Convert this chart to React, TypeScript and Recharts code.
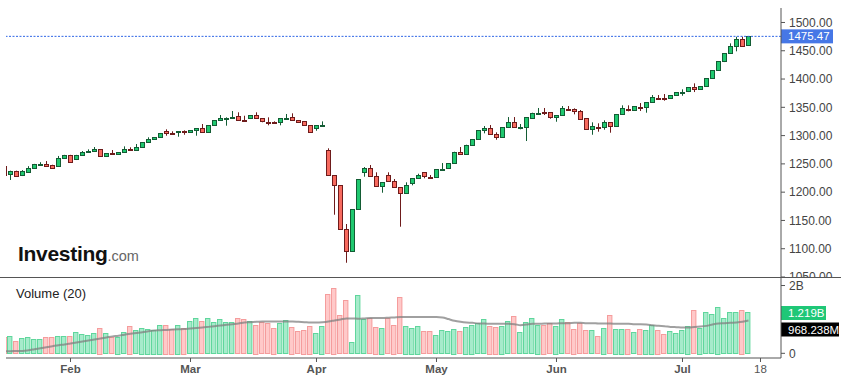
import { ComposedChart, Bar, Line, XAxis, YAxis, ReferenceLine } from "recharts";

// daily OHLC
const opens = [
  1246, 1231, 1237, 1230, 1236, 1242, 1249.5, 1250, 1247.5, 1245,
  1260, 1265, 1257.5, 1265, 1271, 1272.2, 1275.7, 1263.4, 1268.7, 1266.9,
  1270.4, 1275.7, 1274, 1279.3, 1288.1, 1293.4, 1297, 1307.6, 1305, 1307,
  1307.3, 1305.8, 1309.3, 1312.9, 1305.8, 1318.2, 1327, 1331.3, 1333, 1334.1,
  1327.3, 1329.8, 1335.9, 1330.6, 1324.9, 1323.2, 1322.8, 1331.3, 1332.3, 1327,
  1325.2, 1318.2, 1312.2, 1318.4, 1274, 1229.8, 1212.1, 1134.3, 1095.4, 1169.7,
  1235.1, 1242.2, 1228, 1210.3, 1229.8, 1219.2, 1208.6, 1198, 1215.6, 1224.5,
  1235.1, 1227.6, 1226.2, 1240.6, 1241.4, 1251, 1271, 1266.9, 1282.1, 1293.4,
  1308.6, 1312.9, 1302.3, 1297, 1314.6, 1324, 1315.4, 1314.6, 1331.6, 1339.6,
  1341.5, 1341.2, 1332.3, 1335.9, 1347.8, 1346.5, 1343.5, 1330.6, 1310.4, 1316,
  1313.9, 1323.5, 1316.4, 1337.6, 1347.8, 1345.2, 1351.4, 1349.3, 1358.8, 1367.3,
  1366.2, 1365.2, 1371.2, 1377.3, 1377.6, 1385.4, 1381.1, 1387.1, 1401.3, 1415.4,
  1430.6, 1445.5, 1457.8, 1470.8, 1458.9,
];
const highs = [
  1247, 1238, 1238, 1239, 1246, 1250, 1253, 1255, 1248.5, 1264,
  1266, 1266, 1266, 1272.7, 1275.7, 1279.8, 1276.3, 1269.2, 1274.5, 1271,
  1281, 1279.3, 1285.1, 1288.6, 1297, 1297.5, 1304.6, 1311.1, 1307.6, 1308.1,
  1309.3, 1309.9, 1313.4, 1320.5, 1318.7, 1327.5, 1336.4, 1332.3, 1343.5, 1341.2,
  1335.1, 1336.4, 1341.2, 1331.1, 1332.3, 1325.2, 1331.1, 1338.2, 1339.4, 1327.5,
  1325.8, 1318.7, 1318.7, 1325.2, 1277.5, 1230.3, 1212.6, 1143.7, 1170.2, 1223.2,
  1244.4, 1248, 1235.1, 1217.9, 1235.1, 1223.2, 1209.1, 1217.4, 1225, 1232.6,
  1235.6, 1230.3, 1240.9, 1251.5, 1251.5, 1271.5, 1279.8, 1283.9, 1294, 1309.9,
  1316.9, 1318.7, 1305.8, 1315.1, 1332.8, 1332.8, 1320.5, 1332.8, 1340.5, 1348.8,
  1348.8, 1341.7, 1336.4, 1352.3, 1352.3, 1348.2, 1345.2, 1331.1, 1323.5, 1321.7,
  1327, 1324, 1338.2, 1353.5, 1353.5, 1352.3, 1357.6, 1359.3, 1371.7, 1371.7,
  1373.5, 1371.7, 1377, 1381.8, 1385.9, 1392.4, 1387.6, 1401.8, 1415.9, 1431.8,
  1446, 1463.1, 1474.8, 1474.8, 1476,
];
const lows = [
  1229, 1221.5, 1228.5, 1228.5, 1235.5, 1241.5, 1248.5, 1244.5, 1242.5, 1244.5,
  1259, 1252, 1256.8, 1264.5, 1269.7, 1271.5, 1262.7, 1262.7, 1266.2, 1266.2,
  1269.7, 1273.3, 1273.3, 1278.6, 1287.4, 1292.7, 1296.2, 1299.8, 1303.3, 1298,
  1301.5, 1305.1, 1299.8, 1305.1, 1305.1, 1317.5, 1326.3, 1317.5, 1332.8, 1326.3,
  1326.3, 1329.3, 1329.8, 1323.5, 1318.2, 1321.7, 1318.2, 1330.9, 1325.8, 1322.8,
  1317.5, 1305.8, 1308.6, 1318, 1229.1, 1160.1, 1133.6, 1075.2, 1094.7, 1169,
  1227.3, 1227.3, 1209.6, 1199, 1218.5, 1207.9, 1138.9, 1197.3, 1212.1, 1223.8,
  1224.5, 1223.8, 1225.5, 1240.3, 1240.9, 1250.3, 1266.9, 1266.2, 1281.6, 1292.7,
  1304, 1301.5, 1292.7, 1296.2, 1313.9, 1313.9, 1311.1, 1290.4, 1331.1, 1339.4,
  1336.4, 1329.8, 1324.5, 1335.1, 1343.5, 1337.6, 1329.3, 1310.4, 1301.5, 1306.9,
  1310.4, 1305.1, 1315.7, 1336.9, 1342.9, 1344.7, 1343.5, 1340.5, 1358.1, 1364.7,
  1361.7, 1364.7, 1370.5, 1370.5, 1377, 1377, 1380.6, 1386.4, 1400.6, 1414.7,
  1430, 1444.8, 1449, 1458.4, 1458.4,
];
const closes = [
  1230, 1237, 1229, 1237, 1243, 1249, 1250, 1247, 1243, 1260,
  1265, 1253, 1265, 1270.4, 1272, 1275.7, 1263.4, 1268.7, 1266.9, 1270.4,
  1275.7, 1274, 1279.3, 1288.1, 1294, 1297, 1304, 1303.3, 1304, 1307.6,
  1306.6, 1309.3, 1312.9, 1305.8, 1318.2, 1327, 1330.6, 1331.8, 1333.6, 1327,
  1326.8, 1335.9, 1330.6, 1325.2, 1324.3, 1322.6, 1330.6, 1331.8, 1326.3, 1323.5,
  1318.2, 1306.3, 1318.2, 1319, 1229.8, 1212.1, 1134.3, 1095.4, 1169.7, 1222.7,
  1242.2, 1228, 1210.3, 1217.4, 1219.2, 1208.6, 1198, 1212.1, 1224.5, 1229.8,
  1228, 1227, 1240.4, 1241.2, 1251, 1271, 1267.4, 1283.3, 1293.4, 1309.3,
  1312.9, 1302.3, 1296.2, 1314.6, 1324, 1314.6, 1316, 1332.3, 1339.9, 1340.2,
  1340.9, 1331.6, 1335.9, 1348.2, 1347.2, 1342.9, 1329.8, 1311.1, 1316.4, 1315.4,
  1323.5, 1315.7, 1337.6, 1348.2, 1347.2, 1351.8, 1350.8, 1358.8, 1368.2, 1366.7,
  1365.6, 1371.2, 1376.5, 1377.9, 1385.4, 1381.1, 1387.1, 1401.3, 1415.4, 1431.3,
  1445.5, 1457.8, 1470.8, 1458.9, 1475.47,
];
// volume in billions
const volumes = [
  0.47, 0.5, 0.36, 0.44, 0.47, 0.41, 0.41, 0.47, 0.47, 0.5,
  0.5, 0.5, 0.62, 0.56, 0.53, 0.59, 0.76, 0.59, 0.47, 0.49,
  0.62, 0.82, 0.68, 0.76, 0.73, 0.7, 0.85, 0.85, 0.73, 0.85,
  0.76, 0.94, 1.03, 0.94, 1.03, 0.91, 1.0, 0.91, 0.91, 1.03,
  1.0, 0.94, 0.85, 0.91, 0.88, 0.76, 0.88, 0.97, 0.79, 0.65,
  0.7, 0.82, 0.59, 0.82, 1.74, 1.94, 1.12, 1.56, 0.32, 1.71,
  1.0, 1.03, 0.79, 0.76, 1.03, 0.85, 1.65, 0.82, 0.76, 0.82,
  0.65, 0.65, 0.53, 0.68, 0.65, 0.73, 0.65, 0.79, 0.85, 0.88,
  1.0, 0.82, 0.79, 0.82, 0.94, 1.09, 0.62, 0.91, 1.03, 0.85,
  0.85, 0.88, 0.82, 1.0, 0.91, 0.73, 0.88, 0.68, 0.68, 0.5,
  0.76, 1.12, 0.73, 0.73, 0.73, 0.62, 0.73, 0.7, 0.85, 0.7,
  0.56, 0.65, 0.59, 0.68, 0.82, 1.27, 0.76, 1.21, 1.15, 1.38,
  1.03, 1.21, 1.21, 1.29, 1.219,
];
// 20-day volume average as drawn
const volumeMa = [
  0.06, 0.06, 0.07, 0.07, 0.09, 0.12, 0.15, 0.18, 0.21, 0.24,
  0.26, 0.29, 0.32, 0.35, 0.38, 0.41, 0.44, 0.47, 0.5, 0.52,
  0.55, 0.58, 0.6, 0.62, 0.65, 0.67, 0.68, 0.69, 0.7, 0.71,
  0.72, 0.735, 0.745, 0.76, 0.78, 0.8, 0.82, 0.84, 0.86, 0.88,
  0.91, 0.92, 0.93, 0.94, 0.94, 0.94, 0.94, 0.94, 0.94, 0.93,
  0.92, 0.91, 0.91, 0.92, 0.94, 0.97, 1.0, 1.03, 1.03, 1.02,
  1.03, 1.04, 1.04, 1.04, 1.05, 1.06, 1.07, 1.07, 1.07, 1.07,
  1.07, 1.07, 1.07, 1.06, 1.01, 0.96, 0.93, 0.91, 0.9, 0.88,
  0.88, 0.87, 0.87, 0.87, 0.87, 0.86, 0.83, 0.85, 0.87, 0.87,
  0.88, 0.88, 0.88, 0.89, 0.89, 0.9, 0.9, 0.89, 0.89, 0.88,
  0.88, 0.88, 0.87, 0.87, 0.87, 0.86, 0.86, 0.85, 0.83, 0.81,
  0.8, 0.78, 0.77, 0.76, 0.76, 0.78, 0.79, 0.81, 0.85, 0.88,
  0.89, 0.9, 0.91, 0.93, 0.968,
];

const dateTicks = [12, 32, 53, 73, 93, 114, 127];
const dateLabels = ["Feb", "Mar", "Apr", "May", "Jun", "Jul", "18"];
const priceTicks = [1050, 1100, 1150, 1200, 1250, 1300, 1350, 1400, 1450, 1500];
const volumeTicks = [0, 2];
const lastPrice = 1475.47;
const lastVolume = 1.219;
const lastVolumeMa = 0.968238;

const rows = opens.map((o, i) => ({
  n: i + 1,
  open: o,
  high: highs[i],
  low: lows[i],
  close: closes[i],
  range: [lows[i], highs[i]],
  up: closes[i] >= o,
  vol: volumes[i],
  ma: volumeMa[i],
}));

const xDomain = [1.25, 130.4167];
const axisColor = "#555";
const font = "'Liberation Sans', Arial, sans-serif";

function Candle(props: any) {
  const { x, y, width, height, payload } = props;
  if (!payload || height == null) return null;
  const { open, close, high, low, up } = payload;
  const k = height / (high - low);
  const yOf = (v: number) => y + (high - v) * k;
  const cx = Math.floor(x + width / 2) + 0.5;
  const top = Math.round(Math.min(yOf(open), yOf(close))) + 0.5;
  const bh = Math.max(Math.round(Math.abs(yOf(open) - yOf(close))), 1);
  const edge = up ? "#135c34" : "#6e1b1b";
  return (
    <g>
      <line x1={cx} x2={cx} y1={yOf(high)} y2={yOf(low)} stroke={edge} strokeWidth={1} />
      <rect x={cx - 2} y={top} width={4} height={bh} fill={up ? "#1fc86f" : "#f76a5e"} stroke={edge} strokeWidth={1} />
    </g>
  );
}

function VolBar(props: any) {
  const { x, y, width, height, payload } = props;
  if (!payload || !height) return null;
  const up = payload.up;
  return (
    <rect
      x={Math.round(x) + 0.5}
      y={Math.round(y) + 0.5}
      width={width - 1}
      height={Math.round(height)}
      fill={up ? "#a6ebcb" : "#ffc9c9"}
      stroke={up ? "#5fd69c" : "#f59c9c"}
      strokeWidth={1}
    />
  );
}

function Tag(props: any) {
  const { viewBox, text, bg, w, shift = 0 } = props;
  if (!viewBox) return null;
  const x = viewBox.x + viewBox.width;
  const y = viewBox.y + shift;
  return (
    <g>
      <rect x={x} y={y - 7} width={w} height={14} fill={bg} />
      <text x={x + 7} y={y} dy="0.36em" fill="#fff" fontSize={11.5} fontFamily={font}>
        {text}
      </text>
    </g>
  );
}

function DateTick(props: any) {
  const { x, y, payload } = props;
  const label = dateLabels[dateTicks.indexOf(payload.value)];
  return (
    <text x={x} y={y} dy={9} textAnchor="middle" fontSize={11.5} fontFamily={font}
      fontWeight={label === "18" ? 400 : 700} fill="#555">
      {label}
    </text>
  );
}

export default function App() {
  return (
    <div style={{ position: "relative", width: 848, height: 382, background: "#fff", fontFamily: font, overflow: "hidden" }}>
      <style>{"body{margin:0}"}</style>
      <div style={{ position: "absolute", left: 0, top: 0 }}>
        <ComposedChart width={848} height={277} data={rows} margin={{ top: 8, right: 0, left: 6, bottom: 0 }}>
          <XAxis dataKey="n" type="number" domain={xDomain} allowDataOverflow hide />
          <YAxis
            orientation="right"
            width={67}
            domain={[1050, 1525.6]}
            allowDataOverflow
            ticks={priceTicks}
            interval={0}
            tickFormatter={(v: number) => v.toFixed(2)}
            tick={{ fill: "#444", fontSize: 12 }}
            tickSize={4}
            tickMargin={4}
            axisLine={{ stroke: axisColor }}
            tickLine={{ stroke: axisColor }}
          />
          <ReferenceLine
            y={lastPrice}
            stroke="#2f66e6"
            strokeDasharray="2 1.5"
            label={<Tag text={lastPrice.toFixed(2)} bg="#4677e6" w={52} />}
          />
          <Bar dataKey="range" barSize={6} isAnimationActive={false} shape={(p: any) => <Candle {...p} />} />
        </ComposedChart>
      </div>
      <div style={{ position: "absolute", left: 18, top: 243, lineHeight: "21px", whiteSpace: "nowrap" }}>
        <span style={{ fontSize: 21, fontWeight: 700, color: "#111", letterSpacing: -0.3 }}>Investing</span>
        <span style={{ fontSize: 14.5, color: "#666" }}>.com</span>
      </div>
      <div style={{ position: "absolute", left: 0, top: 277, width: 841, height: 1, background: axisColor }} />
      <div style={{ position: "absolute", left: 0, top: 278 }}>
        <ComposedChart width={848} height={104} data={rows} margin={{ top: 0, right: 0, left: 6, bottom: 0 }}>
          <XAxis
            dataKey="n"
            type="number"
            domain={xDomain}
            allowDataOverflow
            ticks={dateTicks}
            interval={0}
            tick={(p: any) => <DateTick {...p} />}
            tickSize={4}
            tickMargin={2}
            height={24}
            axisLine={{ stroke: axisColor }}
            tickLine={{ stroke: axisColor }}
          />
          <YAxis
            orientation="right"
            width={67}
            domain={[-0.138, 2.222]}
            allowDataOverflow
            ticks={volumeTicks}
            interval={0}
            tickFormatter={(v: number) => (v === 0 ? "0" : v + "B")}
            tick={{ fill: "#444", fontSize: 12 }}
            tickSize={4}
            tickMargin={4}
            axisLine={{ stroke: axisColor }}
            tickLine={{ stroke: axisColor }}
          />
          <Bar dataKey="vol" barSize={6} isAnimationActive={false} shape={(p: any) => <VolBar {...p} />} />
          <Line dataKey="ma" type="monotone" dot={false} stroke="#808080" strokeOpacity={0.75} strokeWidth={2} isAnimationActive={false} />
          <ReferenceLine y={lastVolume} stroke="none" label={<Tag text="1.219B" bg="#1fc777" w={45} shift={1} />} />
          <ReferenceLine y={lastVolumeMa} stroke="none" label={<Tag text="968.238M" bg="#000" w={58} shift={9} />} />
        </ComposedChart>
      </div>
      <div style={{ position: "absolute", left: 16, top: 286, fontSize: 13, color: "#222" }}>Volume (20)</div>
    </div>
  );
}
